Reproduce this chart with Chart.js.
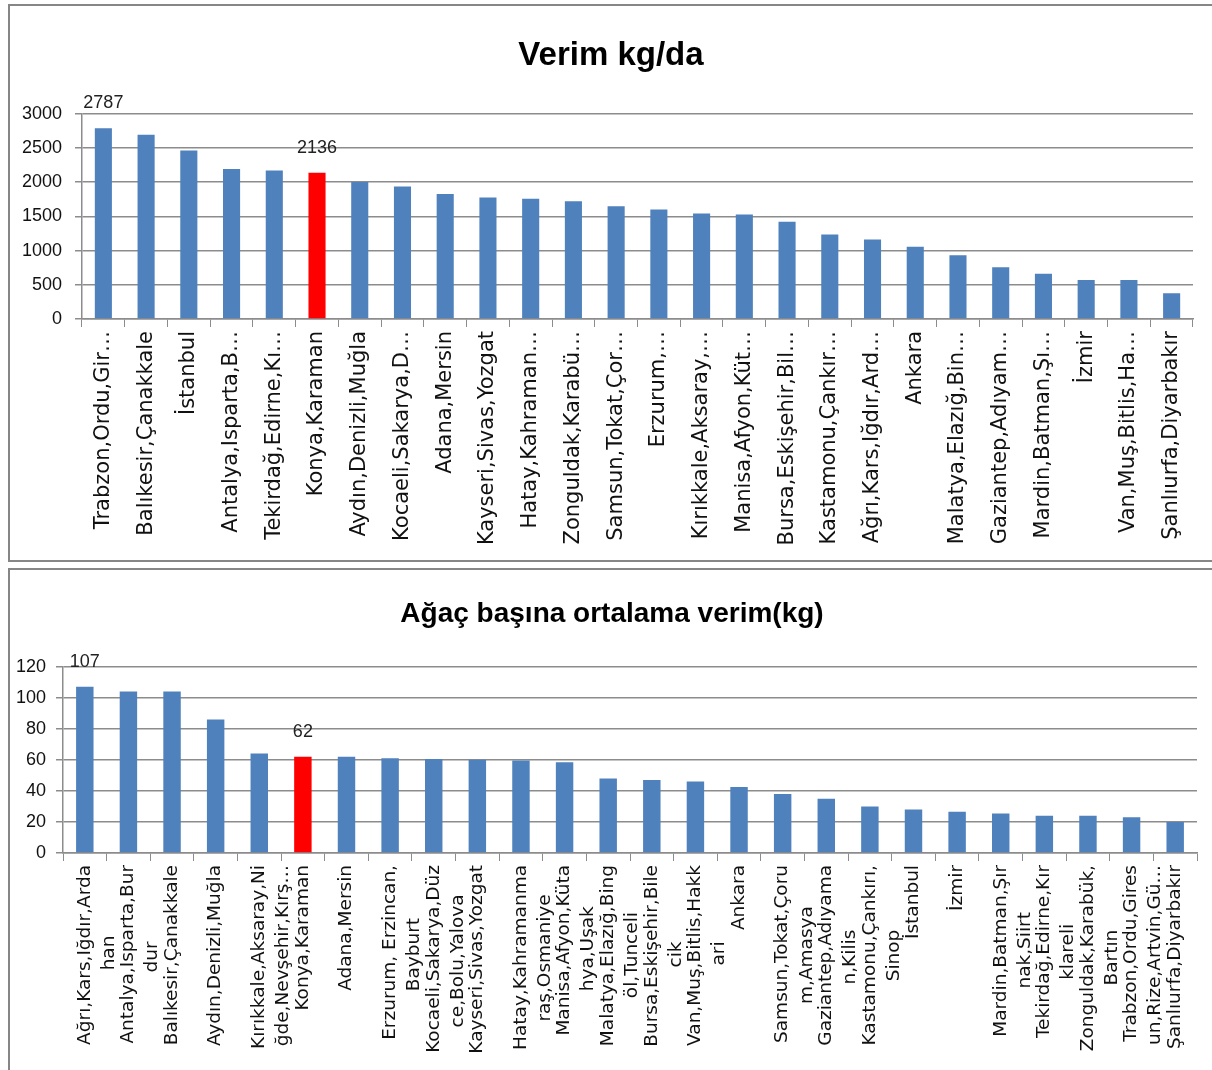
<!DOCTYPE html>
<html>
<head>
<meta charset="utf-8">
<script src="https://cdn.jsdelivr.net/npm/chart.js@4.4.1/dist/chart.umd.min.js"></script>
<style>
	body{margin:0;background:#fff;width:1212px;height:1070px;overflow:hidden;position:relative;}
	.panel{position:absolute;left:8px;width:1214px;border:2px solid #868686;background:#fff;box-sizing:border-box;}
	#p1{top:4px;height:558px;}
	#p2{top:568px;height:520px;}
	.box{position:absolute;left:10px;width:1202px;}
	#b1{top:6px;height:553px;}
	#b2{top:570px;height:500px;}
</style>
</head>
<body>
<div class="panel" id="p1"></div>
<div class="panel" id="p2"></div>
<div class="box" id="b1"><canvas id="chartVerim"></canvas></div>
<div class="box" id="b2"><canvas id="chartAgac"></canvas></div>
<script>
// Verim kg/da
const verimLabels = [
	'Trabzon,Ordu,Gir…', 'Balıkesir,Çanakkale', 'İstanbul', 'Antalya,Isparta,B…', 'Tekirdağ,Edirne,Kı…',
	'Konya,Karaman', 'Aydın,Denizli,Muğla', 'Kocaeli,Sakarya,D…', 'Adana,Mersin', 'Kayseri,Sivas,Yozgat',
	'Hatay,Kahraman…', 'Zonguldak,Karabü…', 'Samsun,Tokat,Çor…', 'Erzurum,…', 'Kırıkkale,Aksaray,…',
	'Manisa,Afyon,Küt…', 'Bursa,Eskişehir,Bil…', 'Kastamonu,Çankır…', 'Ağrı,Kars,Iğdır,Ard…', 'Ankara',
	'Malatya,Elazığ,Bin…', 'Gaziantep,Adıyam…', 'Mardin,Batman,Şı…', 'İzmir', 'Van,Muş,Bitlis,Ha…',
	'Şanlıurfa,Diyarbakır'
];
const verimValues = [2787, 2690, 2460, 2190, 2170, 2136, 2000, 1935, 1825, 1775, 1755, 1720, 1645,
	1600, 1540, 1525, 1420, 1235, 1160, 1055, 930, 755, 660, 570, 568, 375];
const verimTicks = [0, 500, 1000, 1500, 2000, 2500, 3000];
const verimShown = [0, 5]; // değer yazılan çubuklar

// Ağaç başına ortalama verim (kg)
const agacLabels = [
	['Ağrı,Kars,Iğdır,Arda', 'han'], ['Antalya,Isparta,Bur', 'dur'], 'Balıkesir,Çanakkale', 'Aydın,Denizli,Muğla',
	['Kırıkkale,Aksaray,Ni', 'ğde,Nevşehir,Kırş…'], 'Konya,Karaman', 'Adana,Mersin', ['Erzurum, Erzincan,', 'Bayburt'],
	['Kocaeli,Sakarya,Düz', 'ce,Bolu,Yalova'], 'Kayseri,Sivas,Yozgat', ['Hatay,Kahramanma', 'raş,Osmaniye'],
	['Manisa,Afyon,Küta', 'hya,Uşak'], ['Malatya,Elazığ,Bing', 'öl,Tunceli'], ['Bursa,Eskişehir,Bile', 'cik'],
	['Van,Muş,Bitlis,Hakk', 'ari'], 'Ankara', ['Samsun,Tokat,Çoru', 'm,Amasya'], ['Gaziantep,Adıyama', 'n,Kilis'],
	['Kastamonu,Çankırı,', 'Sinop'], 'İstanbul', 'İzmir', ['Mardin,Batman,Şır', 'nak,Siirt'],
	['Tekirdağ,Edirne,Kır', 'klareli'], ['Zonguldak,Karabük,', 'Bartın'], ['Trabzon,Ordu,Gires', 'un,Rize,Artvin,Gü…'],
	'Şanlıurfa,Diyarbakır'
];
const agacValues = [107, 104, 104, 86, 64, 62, 62, 61, 60.5, 60, 59.5, 58.5, 48, 47, 46, 42.5, 38, 35, 30, 28,
	26.5, 25.5, 24, 24, 23, 20];
const agacTicks = [0, 20, 40, 60, 80, 100, 120];
const agacShown = [0, 5];

const BLUE = '#4f81bd';
const RED = '#ff0000';
const GRID = '#8c8c8c';
const SANS = "'Liberation Sans', Arial, sans-serif";
const LABEL_FONT = "'DejaVu Sans', sans-serif";

/**
 * seçili çubukların üstüne değer yaz
 */
const valueLabels = {
	id: 'valueLabels',
	afterLayout(chart) {
		// y ekseni yazıları kutunun soluna taşabilsin
		chart.scales.y.left = 0;
	},
	afterDatasetsDraw(chart, args, opts) {
		const ctx = chart.ctx;
		const meta = chart.getDatasetMeta(0);
		const data = chart.data.datasets[0].data;
		ctx.save();
		ctx.font = '18px ' + SANS;
		ctx.fillStyle = '#222';
		ctx.textAlign = 'center';
		ctx.textBaseline = 'bottom';
		opts.show.forEach(function(i) {
			const bar = meta.data[i];
			ctx.fillText(String(data[i]), bar.x, bar.y - 16);
		});
		ctx.restore();
	}
};

/**
 * çok satırlı etiketleri ortala (kısa satırın sonuna boşluk)
 */
const measureCtx = document.createElement('canvas').getContext('2d');
let centerLines = (label, size) => {
	if (!Array.isArray(label)) return label;
	measureCtx.font = size + 'px ' + LABEL_FONT;
	const widths = label.map(t => measureCtx.measureText(t).width);
	const maxW = Math.max.apply(null, widths);
	const sp = measureCtx.measureText('\u00a0').width;
	return label.map((t, i) => t + '\u00a0'.repeat(Math.round((maxW - widths[i]) / 2 / sp)));
};

let barColors = (labels) => labels.map(l => (String(l) === 'Konya,Karaman' ? RED : BLUE));

let makeConfig = (o) => {
	return {
		type: 'bar',
		data: {
			labels: o.labels,
			datasets: [{
				data: o.values,
				backgroundColor: barColors(o.labels),
				barPercentage: 0.4,
				categoryPercentage: 1
			}]
		},
		options: {
			responsive: true,
			maintainAspectRatio: false,
			animation: { duration: 0 },
			layout: { padding: { left: o.padL, right: o.padR, top: 0, bottom: 0 } },
			plugins: {
				legend: { display: false },
				tooltip: { enabled: false },
				title: {
					display: true,
					text: o.title,
					color: '#000',
					font: { family: SANS, size: o.titleSize, weight: 'bold', lineHeight: 1.2 },
					padding: { top: o.titleTop, bottom: o.titleBottom }
				},
				valueLabels: { show: o.shown }
			},
			scales: {
				x: {
					offset: true,
					afterFit: (s) => { s.height = o.xHeight; },
					grid: { drawOnChartArea: false, drawTicks: true, tickLength: 8, color: GRID, offset: true },
					border: { color: GRID, width: 1.5 },
					ticks: {
						autoSkip: false,
						maxRotation: 90,
						minRotation: 90,
						padding: 4,
						color: '#111',
						font: { family: LABEL_FONT, size: o.labelSize, lineHeight: 1.3 },
						callback: function(value) {
							return centerLines(this.getLabelForValue(value), o.labelSize);
						}
					}
				},
				y: {
					min: 0,
					max: o.ticks[o.ticks.length - 1],
					afterFit: (s) => { s.width = o.yWidth; },
					afterBuildTicks: (s) => { s.ticks = o.ticks.map(v => ({ value: v })); },
					grid: { color: GRID, lineWidth: 1.5, tickLength: 7 },
					border: { color: GRID, width: 1.5 },
					ticks: {
						padding: o.yPad,
						color: '#111',
						font: { family: SANS, size: 18 },
						callback: (value) => String(value)
					}
				}
			}
		},
		plugins: [valueLabels]
	};
};

let verimChart = new Chart(document.getElementById('chartVerim'), makeConfig({
	labels: verimLabels, values: verimValues, ticks: verimTicks, shown: verimShown,
	title: 'Verim kg/da', titleSize: 33, titleTop: 30, titleBottom: 38,
	padL: 19, padR: 19, yWidth: 53, yPad: 13, xHeight: 240, labelSize: 21
}));

let agacChart = new Chart(document.getElementById('chartAgac'), makeConfig({
	labels: agacLabels, values: agacValues, ticks: agacTicks, shown: agacShown,
	title: 'Ağaç başına ortalama verim(kg)', titleSize: 28, titleTop: 27, titleBottom: 36,
	padL: 17, padR: 15, yWidth: 36, yPad: 10, xHeight: 217, labelSize: 18.5
}));
</script>
</body>
</html>
